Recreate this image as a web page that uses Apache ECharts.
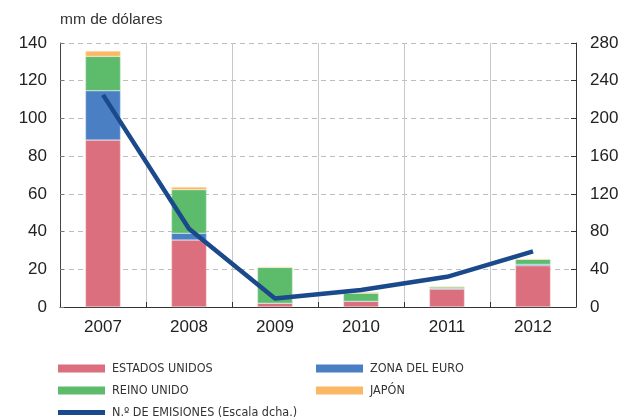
<!DOCTYPE html>
<html>
<head>
<meta charset="utf-8">
<script src="https://cdn.jsdelivr.net/npm/echarts@6/dist/echarts.min.js"></script>
<style>
  html, body { margin: 0; padding: 0; background: #fff; }
  #chart { width: 630px; height: 418px; }
</style>
</head>
<body>
<div id="chart"></div>
<script>
var years = ['2007', '2008', '2009', '2010', '2011', '2012'];
var estadosUnidos = [88.5, 35.5, 2.0, 3.0, 9.5, 21.9];
var zonaEuro = [26.2, 3.6, 0.0, 0.0, 0.3, 0.7];
var reinoUnido = [18.2, 23.1, 19.0, 4.3, 0.8, 2.7];
var japon = [2.8, 1.4, 0.2, 0.5, 0.3, 0.0];
var emisiones = [225, 83, 9, 18, 32, 59];
var leftTicks = [0, 140, 20];
var rightTicks = [0, 280, 40];

var labelFont = 'Liberation Sans, Arial, sans-serif';
var legendFont = 'DejaVu Sans Condensed, Liberation Sans Narrow, sans-serif';

var chart = echarts.init(document.querySelector('#chart'));

function legendAt(name, left, top, isLine) {
    return {
        data: [name],
        left: left,
        top: top,
        icon: 'rect',
        itemWidth: 47,
        itemHeight: isLine ? 5 : 8,
        itemGap: 0,
        padding: 0,
        itemStyle: { borderWidth: 0 },
        textStyle: { fontFamily: legendFont, fontSize: 12.5, color: '#333', padding: [0, 0, 0, 2] }
    };
}

var option = {
    animation: false,
    title: {
        text: 'mm de dólares',
        left: 55,
        top: 7,
        textStyle: { fontFamily: labelFont, fontSize: 15.5, fontWeight: 'normal', color: '#333' }
    },
    legend: [
        legendAt('ESTADOS UNIDOS', 58, 362, false),
        legendAt('ZONA DEL EURO', 316, 362, false),
        legendAt('REINO UNIDO', 58, 384, false),
        legendAt('JAPÓN', 316, 384, false),
        legendAt('N.º DE EMISIONES (Escala dcha.)', 58, 406, true)
    ],
    grid: { left: 60, right: 54, top: 43, bottom: 111 },
    xAxis: {
        type: 'category',
        data: years,
        axisLine: { lineStyle: { color: '#333', width: 1 } },
        axisTick: { show: true, inside: true, length: 5, lineStyle: { color: '#333' } },
        axisLabel: { fontFamily: labelFont, fontSize: 17, color: '#222', margin: 12 },
        splitLine: { show: true, lineStyle: { color: '#c8c8c8', width: 1 } }
    },
    yAxis: [
        {
            type: 'value',
            min: leftTicks[0],
            max: leftTicks[1],
            interval: leftTicks[2],
            axisLine: { show: true, lineStyle: { color: '#444' } },
            axisTick: { show: true, inside: true, length: 4, lineStyle: { color: '#777' } },
            axisLabel: { fontFamily: labelFont, fontSize: 17, color: '#222', margin: 13 },
            splitLine: { show: true, lineStyle: { color: '#bdbdbd', type: [5, 4] } }
        },
        {
            type: 'value',
            position: 'right',
            min: rightTicks[0],
            max: rightTicks[1],
            interval: rightTicks[2],
            axisLine: { show: true, lineStyle: { color: '#333' } },
            axisTick: { show: true, inside: true, length: 5, lineStyle: { color: '#333' } },
            axisLabel: { fontFamily: labelFont, fontSize: 17, color: '#222', margin: 14 },
            splitLine: { show: false }
        }
    ],
    series: [
        {
            name: 'ESTADOS UNIDOS', type: 'bar', stack: 'total', barWidth: 35,
            itemStyle: { color: '#db6f7e', borderColor: '#f3d6da', borderWidth: 0.5 },
            data: estadosUnidos
        },
        {
            name: 'ZONA DEL EURO', type: 'bar', stack: 'total', barWidth: 35,
            itemStyle: { color: '#4a80c3', borderColor: '#c9d9ee', borderWidth: 0.5 },
            data: zonaEuro
        },
        {
            name: 'REINO UNIDO', type: 'bar', stack: 'total', barWidth: 35,
            itemStyle: { color: '#5dbb6c', borderColor: '#cdebd1', borderWidth: 0.5 },
            data: reinoUnido
        },
        {
            name: 'JAPÓN', type: 'bar', stack: 'total', barWidth: 35,
            itemStyle: { color: '#fbb864', borderColor: '#fde6c8', borderWidth: 0.5 },
            data: japon
        },
        {
            name: 'N.º DE EMISIONES (Escala dcha.)', type: 'line', yAxisIndex: 1,
            symbol: 'none',
            lineStyle: { color: '#1b4a8c', width: 4.5 },
            itemStyle: { color: '#1b4a8c' },
            data: emisiones
        }
    ]
};
chart.setOption(option);
</script>
</body>
</html>
